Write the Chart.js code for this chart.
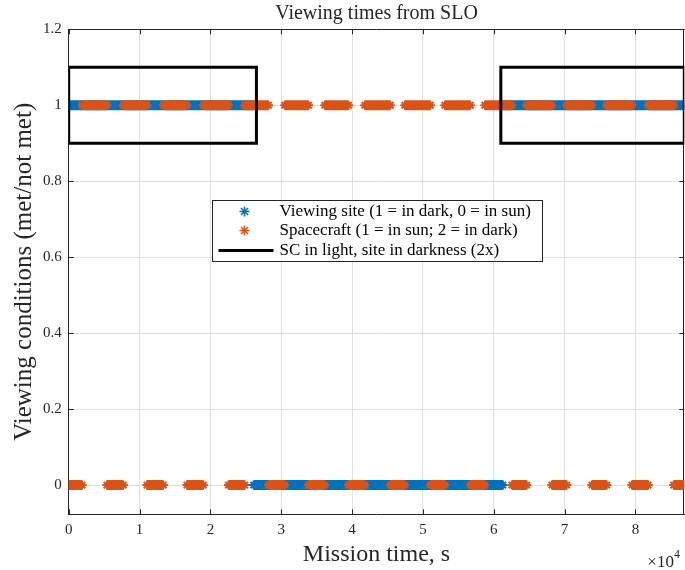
<!DOCTYPE html>
<html lang="en">
<head>
<meta charset="UTF-8">
<title>Viewing times from SLO</title>
<script src="https://cdn.jsdelivr.net/npm/chart.js"></script>
<style>
  body { margin: 0; background: #fff; }
</style>
</head>
<body>
<canvas id="viewChart" width="685" height="570"></canvas>
<script>
// axis ticks (x in units of 10^4 s)
const xTicks = [0, 1, 2, 3, 4, 5, 6, 7, 8];
const yTicks = [0, 0.2, 0.4, 0.6, 0.8, 1, 1.2];
const xMax = 86900;
const yMin = -0.077;
const yMax = 1.2;

// viewing site: switch times (s) and value per interval (1 = dark, 0 = sun)
const siteTimes = [0, 26100, 61300, 86900];
const siteValues = [1, 0, 1];

// spacecraft: switch times (s) and value per interval (1 = sun, 0 = dark)
const scTimes = [0, 1900, 5400, 7700, 11050, 13350, 16700, 19000, 22550, 24850,
  28200, 30500, 33850, 36150, 39500, 41800, 45400, 47450, 51050, 53100,
  56700, 58750, 62550, 64650, 68200, 70300, 73850, 75950, 79500, 81800,
  85400, 86900];
const scValues = [0, 1, 0, 1, 0, 1, 0, 1, 0, 1, 0, 1, 0, 1, 0, 1,
  0, 1, 0, 1, 0, 1, 0, 1, 0, 1, 0, 1, 0, 1, 0];

// windows where SC is in light and site in darkness (drawn as boxes)
const boxStart = [0, 61000];
const boxEnd = [26500, 86900];
const boxLow = 0.9;
const boxHigh = 1.1;

const legendLabels = [
  'Viewing site (1 = in dark, 0 = in sun)',
  'Spacecraft (1 = in sun; 2 = in dark)',
  'SC in light, site in darkness (2x)'
];

const blue = '#0072BD';
const orange = '#D95319';
const axisColor = '#262626';
const gridColor = '#dfdfdf';
const serif = '"Liberation Serif", "Times New Roman", serif';

Chart.defaults.font.family = serif;

// each interval becomes a flat segment, broken by a null point
function segments(times, values) {
  const pts = [];
  for (let i = 0; i < values.length; i++) {
    pts.push({x: times[i], y: values[i]});
    pts.push({x: times[i + 1], y: values[i]});
    pts.push({x: times[i + 1], y: null});
  }
  return pts;
}

function boxes() {
  const pts = [];
  for (let i = 0; i < boxStart.length; i++) {
    pts.push({x: boxStart[i], y: boxLow}, {x: boxStart[i], y: boxHigh},
      {x: boxEnd[i], y: boxHigh}, {x: boxEnd[i], y: boxLow},
      {x: boxStart[i], y: boxLow}, {x: boxStart[i], y: null});
  }
  return pts;
}

function drawStar(ctx, x, y, r, color) {
  const d = r * Math.SQRT1_2;
  ctx.strokeStyle = color;
  ctx.lineWidth = 1.5;
  ctx.beginPath();
  ctx.moveTo(x - r, y); ctx.lineTo(x + r, y);
  ctx.moveTo(x, y - r); ctx.lineTo(x, y + r);
  ctx.moveTo(x - d, y - d); ctx.lineTo(x + d, y + d);
  ctx.moveTo(x - d, y + d); ctx.lineTo(x + d, y - d);
  ctx.stroke();
}

// inward ticks on all four sides, top/right box lines, x10^4 note
const axesFrame = {
  id: 'axesFrame',
  beforeDatasetsDraw(chart) {
    const {ctx, chartArea: a, scales: {x, y}} = chart;
    const tl = 5;
    ctx.save();
    ctx.strokeStyle = axisColor;
    ctx.lineWidth = 1;
    ctx.beginPath();
    xTicks.forEach(v => {
      const px = Math.round(x.getPixelForValue(v * 1e4)) + 0.5;
      ctx.moveTo(px, a.bottom); ctx.lineTo(px, a.bottom - tl);
      ctx.moveTo(px, a.top); ctx.lineTo(px, a.top + tl);
    });
    yTicks.forEach(v => {
      const py = Math.round(y.getPixelForValue(v)) + 0.5;
      ctx.moveTo(a.left, py); ctx.lineTo(a.left + tl, py);
      ctx.moveTo(a.right, py); ctx.lineTo(a.right - tl, py);
    });
    ctx.moveTo(a.left, Math.round(a.top) + 0.5);
    ctx.lineTo(a.right, Math.round(a.top) + 0.5);
    ctx.moveTo(Math.round(a.right) - 0.5, a.top);
    ctx.lineTo(Math.round(a.right) - 0.5, a.bottom);
    ctx.stroke();

    ctx.fillStyle = axisColor;
    ctx.textBaseline = 'middle';
    ctx.textAlign = 'left';
    ctx.font = '17px ' + serif;
    const ex = a.right - 37;
    ctx.fillText('\u00d710', ex, 563);
    const w = ctx.measureText('\u00d710').width;
    ctx.font = '12px ' + serif;
    ctx.fillText('4', ex + w, 555);
    ctx.restore();
  }
};

const legendBox = {
  id: 'legendBox',
  afterDraw(chart) {
    const {ctx, chartArea: a} = chart;
    const lx = Math.round(a.left + 143) + 0.5;
    const ly = Math.round(a.top + 171) + 0.5;
    const lw = 330, lh = 61;
    ctx.save();
    ctx.fillStyle = '#fff';
    ctx.fillRect(lx, ly, lw, lh);
    ctx.strokeStyle = axisColor;
    ctx.lineWidth = 1;
    ctx.strokeRect(lx, ly, lw, lh);

    const rows = [ly + 11, ly + 30, ly + 50];
    drawStar(ctx, lx + 32, rows[0], 5, blue);
    drawStar(ctx, lx + 32, rows[1], 5, orange);
    ctx.strokeStyle = '#000';
    ctx.lineWidth = 3;
    ctx.beginPath();
    ctx.moveTo(lx + 6, rows[2]); ctx.lineTo(lx + 61, rows[2]);
    ctx.stroke();

    ctx.fillStyle = '#000';
    ctx.font = '17px ' + serif;
    ctx.textBaseline = 'middle';
    legendLabels.forEach((t, i) => ctx.fillText(t, lx + 67, rows[i]));
    ctx.restore();
  }
};

const ctx = document.getElementById('viewChart').getContext('2d');
const viewChart = new Chart(ctx, {
  type: 'line',
  data: {
    datasets: [
      {
        label: legendLabels[0],
        data: segments(siteTimes, siteValues),
        borderColor: blue,
        borderWidth: 10,
        borderCapStyle: 'butt',
        pointStyle: 'star',
        pointRadius: 4.5,
        pointBorderWidth: 2,
        pointBorderColor: blue,
        pointBackgroundColor: blue,
        tension: 0,
        order: 3
      },
      {
        label: legendLabels[1],
        data: segments(scTimes, scValues),
        borderColor: orange,
        borderWidth: 10,
        borderCapStyle: 'butt',
        pointStyle: 'star',
        pointRadius: 4.5,
        pointBorderWidth: 2,
        pointBorderColor: orange,
        pointBackgroundColor: orange,
        tension: 0,
        order: 2
      },
      {
        label: legendLabels[2],
        data: boxes(),
        borderColor: '#000',
        borderWidth: 3,
        borderJoinStyle: 'miter',
        borderCapStyle: 'square',
        pointRadius: 0,
        tension: 0,
        order: 1
      }
    ]
  },
  options: {
    responsive: false,
    animation: false,
    devicePixelRatio: 1,
    layout: { autoPadding: false, padding: { left: 0, right: 0.7, top: 0, bottom: 0 } },
    plugins: {
      legend: { display: false },
      tooltip: { enabled: false },
      title: {
        display: true,
        text: 'Viewing times from SLO',
        fullSize: false,
        color: axisColor,
        font: { size: 20, weight: 'normal', lineHeight: 1.2 },
        padding: { top: 1.5, bottom: 3.8 }
      }
    },
    scales: {
      x: {
        type: 'linear',
        min: 0,
        max: xMax,
        afterBuildTicks: s => { s.ticks = xTicks.map(v => ({ value: v * 1e4 })); },
        afterFit: s => { s.height = 55.7; s.paddingLeft = 0; s.paddingRight = 0; },
        ticks: {
          callback: v => String(v / 1e4),
          color: axisColor,
          font: { size: 15 },
          padding: 7,
          maxRotation: 0,
          autoSkip: false
        },
        grid: { color: gridColor, drawTicks: false },
        border: { color: axisColor, width: 1 },
        title: {
          display: true,
          text: 'Mission time, s',
          color: axisColor,
          font: { size: 24, lineHeight: 1.2 },
          padding: { top: 0, bottom: 1 }
        }
      },
      y: {
        min: yMin,
        max: yMax,
        afterBuildTicks: s => { s.ticks = yTicks.map(v => ({ value: v })); },
        afterFit: s => { s.width = 68.7; s.paddingTop = 0; s.paddingBottom = 0; },
        ticks: {
          callback: v => String(Math.round(v * 10) / 10),
          color: axisColor,
          font: { size: 15 },
          padding: 7
        },
        grid: { color: gridColor, drawTicks: false },
        border: { color: axisColor, width: 1 },
        title: {
          display: true,
          text: 'Viewing conditions (met/not met)',
          color: axisColor,
          font: { size: 25, lineHeight: 1.2 },
          padding: { top: 9, bottom: 0 }
        }
      }
    }
  },
  plugins: [axesFrame, legendBox]
});
</script>
</body>
</html>
